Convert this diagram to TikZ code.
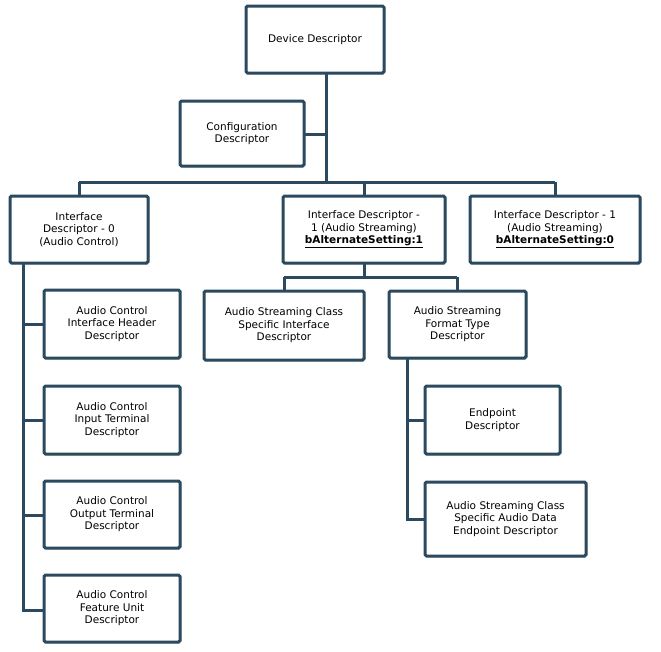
\documentclass[tikz,border=0pt]{standalone}
\usepackage{fontspec}
\setmainfont{DejaVu Sans}
\usetikzlibrary{shadows}
\definecolor{bd}{HTML}{2B4A60}
\begin{document}
\begin{tikzpicture}[x=1pt,y=-1pt,
  box/.style={draw=bd,line width=3pt,fill=white,rounded corners=1.5pt,align=center,
    font=\fontsize{10.5}{12.5}\selectfont,inner sep=0pt,
    drop shadow={shadow xshift=1.5pt,shadow yshift=-1.5pt,opacity=0.3}},
  ln/.style={draw=bd,line width=3pt}]
\useasboundingbox (0,0) rectangle (661,651);
\def\bx#1#2#3#4#5#6{\node[box,minimum width=#4-#2,minimum height=#5-#3] (#1) at ({(#2+#4)/2},{(#3+#5)/2}) {#6};}
\coordinate (t1) at (326,134);
\coordinate (t2) at (326,182);
\coordinate (b0) at (79,182);
\coordinate (b2) at (555,182);
\draw[ln] (326,73) -- (t2);
\draw[ln] (b0) -- (b2);
\draw[ln] (364,182) -- (364,277);
\draw[ln] (284,277) -- (457,277);
\draw[ln] (79,230) -- (79,182);
\draw[ln] (555,230) -- (555,182);
\draw[ln] (284,277) -- (284,300);
\draw[ln] (457,277) -- (457,300);
\draw[ln] (242,134) -- (t1);
\draw[ln] (23,240) -- (23,610) -- (60,610);
\draw[ln] (23,324) -- (60,324);
\draw[ln] (23,420) -- (60,420);
\draw[ln] (23,515) -- (60,515);
\draw[ln] (407,330) -- (407,519) -- (440,519);
\draw[ln] (407,420) -- (440,420);
\bx{dev}{246}{6}{384}{73}{Device Descriptor}
\bx{cfg}{180}{101}{304}{166}{Configuration\\Descriptor}
\bx{if0}{10}{196}{148}{263}{Interface\\Descriptor - 0\\(Audio Control)}
\bx{if1}{283}{196}{445}{263}{Interface Descriptor -\\1 (Audio Streaming)\\\underline{\textbf{bAlternateSetting:1}}}
\bx{if2}{470}{196}{640}{263}{Interface Descriptor - 1\\(Audio Streaming)\\\underline{\textbf{bAlternateSetting:0}}}
\bx{ach}{44}{290}{180}{358}{Audio Control\\Interface Header\\Descriptor}
\bx{act}{44}{386}{180}{454}{Audio Control\\Input Terminal\\Descriptor}
\bx{aco}{44}{481}{180}{548}{Audio Control\\Output Terminal\\Descriptor}
\bx{acf}{44}{575}{180}{642}{Audio Control\\Feature Unit\\Descriptor}
\bx{asi}{204}{291}{364}{360}{Audio Streaming Class\\Specific Interface\\Descriptor}
\bx{asf}{389}{291}{526}{358}{Audio Streaming\\Format Type\\Descriptor}
\bx{ep}{425}{386}{560}{454}{Endpoint\\Descriptor}
\bx{asd}{425}{482}{586}{556}{Audio Streaming Class\\Specific Audio Data\\Endpoint Descriptor}
\end{tikzpicture}
\end{document}
